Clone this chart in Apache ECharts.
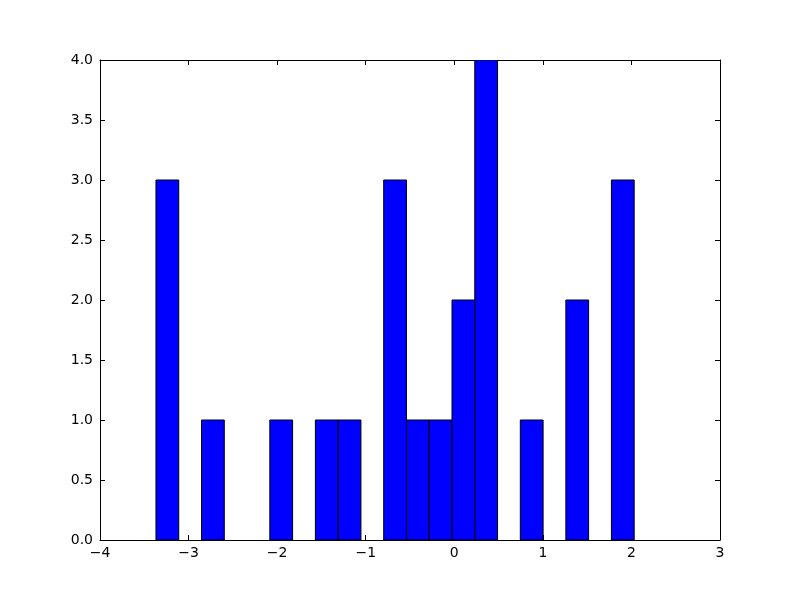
<!DOCTYPE html>
<html>
<head>
<meta charset="utf-8">
<script src="https://cdn.jsdelivr.net/npm/echarts@6/dist/echarts.min.js"></script>
<style>html,body{margin:0;padding:0;background:#fff;}#c{width:800px;height:600px;}</style>
</head>
<body>
<div id="c"></div>
<script>
// Histogram: 21 bins
const binStart = -3.368;
const binWidth = 0.2571;
const counts = [3,0,1,0,0,1,0,1,1,0,3,1,1,2,4,0,1,0,2,0,3];
const xTicks = [-4,-3,-2,-1,0,1,2,3];
const yTicks = [0,0.5,1,1.5,2,2.5,3,3.5,4];

const chart = echarts.init(document.getElementById('c'), null, {renderer:'canvas'});
const fmtMinus = v => String(v).replace('-', '\u2212');
const font = {fontFamily:'DejaVu Sans', fontSize:14, color:'#000'};
const axisLineStyle = {show:true, onZero:false, lineStyle:{color:'#000', width:1}};
const tickStyle = {show:true, inside:true, length:5, lineStyle:{color:'#000', width:1}};

const data = counts.map((c,i)=>[i,c]);

chart.setOption({
  animation:false,
  backgroundColor:'#fff',
  grid:{left:100, right:80, top:60, bottom:60, show:false},
  xAxis:[{
    type:'value', position:'bottom', min:xTicks[0], max:xTicks[xTicks.length-1], interval:1,
    axisLine:axisLineStyle, axisTick:tickStyle, splitLine:{show:false},
    axisLabel:Object.assign({margin:6, formatter:fmtMinus}, font)
  },{
    type:'value', position:'top', min:xTicks[0], max:xTicks[xTicks.length-1], interval:1,
    axisLine:axisLineStyle, axisTick:tickStyle, splitLine:{show:false},
    axisLabel:{show:false}
  }],
  yAxis:[{
    type:'value', position:'left', min:0, max:4, interval:0.5,
    axisLine:axisLineStyle, axisTick:tickStyle, splitLine:{show:false},
    axisLabel:Object.assign({margin:7, formatter:v=>v.toFixed(1)}, font)
  },{
    type:'value', position:'right', min:0, max:4, interval:0.5,
    axisLine:axisLineStyle, axisTick:tickStyle, splitLine:{show:false},
    axisLabel:{show:false}
  }],
  series:[{
    type:'custom',
    xAxisIndex:0, yAxisIndex:0,
    data:data,
    clip:true,
    renderItem:function(params, api){
      const i = api.value(0), c = api.value(1);
      if (c <= 0) return null;
      const x0 = binStart + i*binWidth, x1 = x0 + binWidth;
      const p0 = api.coord([x0, c]);
      const p1 = api.coord([x1, 0]);
      return {
        type:'rect',
        shape:{x:p0[0], y:p0[1], width:p1[0]-p0[0], height:p1[1]-p0[1]},
        style:{fill:'#0000ff', stroke:'#000', lineWidth:1}
      };
    },
    z:1
  }]
});
</script>
</body>
</html>
